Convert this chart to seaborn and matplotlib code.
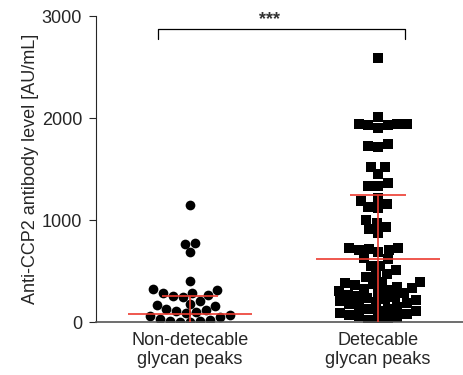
import pandas as pd
import matplotlib
matplotlib.use("Agg")
import matplotlib.pyplot as plt
import seaborn as sns

# values (AU/mL)
groups = ["Non-detecable\nglycan peaks", "Detecable\nglycan peaks"]

non_detect = [1148, 770, 764, 682, 400, 321, 311, 285, 285, 262, 256, 246,
              203, 180, 164, 154, 125,
              118, 112, 98, 88, 72, 60, 46, 34, 22, 14, 8, 4, 1]

detect = [2590, 2010, 1941, 1928, 1905, 1931, 1944, 1941,
          1725, 1718, 1744, 1521, 1521, 1452, 1334, 1334, 1361,
          1213, 1157, 1115, 1125, 1184, 974, 908, 869, 928, 997,
          721, 705, 682, 613, 626, 705, 718, 721,
          554, 508, 466, 439, 475, 548,
          395, 390, 378, 372, 360, 348, 338, 326, 316, 304, 294, 282,
          265, 258, 246, 238, 226, 216, 204, 194, 182, 172, 160, 150,
          130, 124, 112, 104, 92, 82, 70, 60, 48, 36, 24, 10]

# summary lines shown in the reference (mean and mean + SD)
means = [82, 613]
sds = [174, 636]

df = pd.concat([
    pd.DataFrame({"group": groups[0], "value": non_detect}),
    pd.DataFrame({"group": groups[1], "value": detect}),
])

sns.set_style("ticks")
plt.rcParams["font.family"] = ["Liberation Sans", "DejaVu Sans"]

fig = plt.figure(figsize=(4.64, 3.75), dpi=100)
ax = fig.add_axes([0.207, 0.1413, 0.793, 0.8160])

sns.swarmplot(data=df[df["group"] == groups[0]], x="group", y="value",
              order=groups, marker="o", color="black", size=7.0,
              linewidth=0, ax=ax, zorder=2)
sns.swarmplot(data=df[df["group"] == groups[1]], x="group", y="value",
              order=groups, marker="s", color="black", size=6.8,
              linewidth=0, ax=ax, zorder=2)

red = "#ec3b30"
for i, (m, s) in enumerate(zip(means, sds)):
    ax.hlines(m, i - 0.33, i + 0.33, color=red, lw=1.2, zorder=5)
    ax.vlines(i, m - s, m + s, color=red, lw=1.2, zorder=5)
    ax.hlines([m - s, m + s], i - 0.15, i + 0.15, color=red, lw=1.2, zorder=5)

ax.set_xlim(-0.5, 1.457)
ax.set_ylim(0, 3000)
ax.set_yticks([0, 1000, 2000, 3000])
ax.set_xlabel("")
ax.set_ylabel("Anti-CCP2 antibody level [AU/mL]", fontsize=13, labelpad=2)
ax.tick_params(axis="y", labelsize=13, length=5, width=0.8, pad=5)
ax.tick_params(axis="x", labelsize=13, length=0, pad=7)
sns.despine(ax=ax, top=True, right=True)
ax.spines["left"].set_linewidth(0.8)
ax.spines["bottom"].set_color("#555555")
ax.spines["bottom"].set_linewidth(1.2)

# significance bracket
ax.plot([-0.17, -0.17, 1.144, 1.144], [2770, 2870, 2870, 2770],
        color="black", lw=0.9, clip_on=False)
ax.text(0.42, 2880, "***", ha="center", va="bottom", fontsize=13,
        fontweight="bold", color="#333333")

fig.savefig("out.png", dpi=100)
